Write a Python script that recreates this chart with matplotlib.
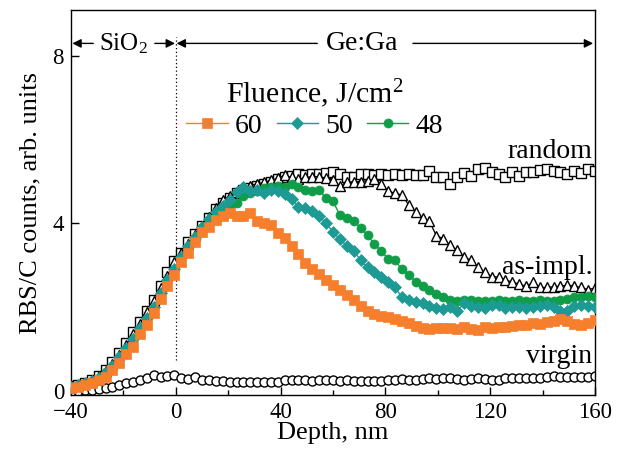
import matplotlib
matplotlib.use("Agg")
import matplotlib.pyplot as plt

plt.rcParams['font.family'] = ['Liberation Serif', 'DejaVu Serif']
plt.rcParams['mathtext.fontset'] = 'custom'
plt.rcParams['mathtext.rm'] = 'Liberation Serif'
plt.rcParams['mathtext.it'] = 'Liberation Serif:italic'

# Depth channels, nm
depth = [-40.0, -37.4, -34.7, -32.1, -29.5, -26.8, -24.2, -21.6, -18.9, -16.3,
         -13.7, -11.1, -8.4, -5.8, -3.2, -0.5, 2.1, 4.7, 7.4, 10.0,
         12.6, 15.3, 17.9, 20.5, 23.2, 25.8, 28.4, 31.1, 33.7, 36.3,
         38.9, 41.6, 44.2, 46.8, 49.5, 52.1, 54.7, 57.4, 60.0, 62.6,
         65.3, 67.9, 70.5, 73.2, 75.8, 78.4, 81.1, 83.7, 86.3, 88.9,
         91.6, 94.2, 96.8, 99.5, 102.1, 104.7, 107.4, 110.0, 112.6, 115.3,
         117.9, 120.5, 123.2, 125.8, 128.4, 131.1, 133.7, 136.3, 138.9, 141.6,
         144.2, 146.8, 149.5, 152.1, 154.7, 157.4, 160.0]

random_yield = [0.12, 0.15, 0.20, 0.27, 0.36, 0.50, 0.68, 0.90, 1.15, 1.40,
                1.65, 1.90, 2.18, 2.50, 2.83, 3.10, 3.30, 3.55, 3.75, 3.93,
                4.14, 4.35, 4.50, 4.60, 4.72, 4.80, 4.85, 4.90, 4.95, 5.00,
                5.05, 5.10, 5.13, 5.17, 5.15, 5.17, 5.18, 5.20, 5.22, 5.17,
                5.12, 5.10, 5.17, 5.17, 5.15, 5.17, 5.15, 5.17, 5.15, 5.17,
                5.16, 5.15, 5.25, 5.12, 5.10, 4.93, 5.10, 5.20, 5.13, 5.30,
                5.33, 5.22, 5.17, 5.10, 5.22, 5.13, 5.22, 5.22, 5.27, 5.29,
                5.25, 5.22, 5.17, 5.25, 5.20, 5.29, 5.25]

as_implanted = [0.10, 0.14, 0.20, 0.27, 0.36, 0.48, 0.65, 0.86, 1.10, 1.35,
                1.60, 1.88, 2.15, 2.45, 2.75, 3.08, 3.30, 3.50, 3.72, 3.95,
                4.15, 4.38, 4.55, 4.65, 4.75, 4.82, 4.90, 4.95, 4.98, 5.03,
                5.08, 5.15, 5.10, 5.05, 5.10, 5.12, 5.12, 5.08, 5.03, 4.90,
                4.98, 5.00, 5.00, 5.02, 5.05, 4.95, 4.77, 4.72, 4.68, 4.44,
                4.28, 4.13, 4.05, 3.70, 3.64, 3.48, 3.36, 3.20, 3.12, 2.96,
                2.84, 2.73, 2.72, 2.65, 2.60, 2.55, 2.50, 2.59, 2.47, 2.47,
                2.49, 2.50, 2.53, 2.50, 2.47, 2.42, 2.46]

virgin = [-0.03, 0.00, 0.02, 0.03, 0.05, 0.07, 0.10, 0.15, 0.19, 0.22,
          0.27, 0.31, 0.38, 0.34, 0.36, 0.38, 0.31, 0.29, 0.33, 0.26,
          0.25, 0.24, 0.23, 0.22, 0.22, 0.22, 0.21, 0.21, 0.22, 0.21,
          0.22, 0.26, 0.27, 0.25, 0.26, 0.24, 0.25, 0.26, 0.27, 0.24,
          0.25, 0.24, 0.23, 0.24, 0.23, 0.24, 0.25, 0.26, 0.28, 0.27,
          0.26, 0.28, 0.30, 0.29, 0.30, 0.30, 0.28, 0.27, 0.28, 0.30,
          0.28, 0.27, 0.25, 0.31, 0.31, 0.30, 0.31, 0.31, 0.32, 0.34,
          0.35, 0.34, 0.33, 0.34, 0.33, 0.34, 0.35]

fluence_60 = [0.07, 0.10, 0.15, 0.20, 0.26, 0.34, 0.50, 0.67, 0.88, 1.06,
              1.35, 1.58, 1.85, 2.20, 2.50, 2.78, 3.07, 3.30, 3.55, 3.80,
              3.92, 4.08, 4.18, 4.24, 4.18, 4.17, 4.25, 4.06, 4.02, 3.97,
              3.78, 3.66, 3.46, 3.28, 3.05, 2.92, 2.80, 2.65, 2.52, 2.42,
              2.30, 2.18, 2.02, 1.90, 1.83, 1.78, 1.77, 1.72, 1.68, 1.62,
              1.56, 1.50, 1.47, 1.50, 1.50, 1.50, 1.48, 1.52, 1.47, 1.46,
              1.52, 1.50, 1.53, 1.52, 1.55, 1.58, 1.58, 1.62, 1.60, 1.64,
              1.68, 1.72, 1.68, 1.60, 1.58, 1.63, 1.70]

fluence_50 = [0.10, 0.13, 0.18, 0.24, 0.32, 0.43, 0.60, 0.80, 1.02, 1.25,
              1.50, 1.75, 2.00, 2.35, 2.65, 2.92, 3.20, 3.45, 3.68, 3.92,
              4.10, 4.28, 4.42, 4.55, 4.74, 4.87, 4.78, 4.80, 4.72, 4.80,
              4.77, 4.70, 4.58, 4.40, 4.36, 4.30, 4.18, 4.00, 3.80, 3.62,
              3.47, 3.35, 3.12, 2.95, 2.85, 2.72, 2.60, 2.47, 2.24, 2.18,
              2.13, 2.10, 2.02, 1.99, 1.95, 2.01, 1.90, 2.10, 2.02, 2.00,
              1.99, 2.04, 2.05, 1.99, 2.00, 2.00, 1.99, 2.00, 2.02, 2.06,
              2.00, 1.92, 1.90, 2.02, 2.06, 2.03, 2.00]

fluence_48 = [0.10, 0.13, 0.18, 0.24, 0.32, 0.44, 0.60, 0.80, 1.00, 1.22,
              1.48, 1.72, 1.98, 2.30, 2.60, 2.88, 3.15, 3.40, 3.62, 3.85,
              4.02, 4.18, 4.30, 4.42, 4.50, 4.65, 4.72, 4.77, 4.84, 4.88,
              4.89, 4.88, 4.93, 4.86, 4.79, 4.78, 4.80, 4.60, 4.53, 4.20,
              4.14, 4.05, 3.90, 3.72, 3.50, 3.35, 3.14, 3.12, 2.90, 2.78,
              2.60, 2.50, 2.40, 2.32, 2.25, 2.18, 2.14, 2.16, 2.18, 2.15,
              2.15, 2.14, 2.16, 2.15, 2.14, 2.16, 2.15, 2.15, 2.16, 2.14,
              2.15, 2.17, 2.20, 2.24, 2.25, 2.26, 2.25]

fluence_labels = ['60', '50', '48']
fluence_colors = ['#f57f2c', '#1e9a94', '#0f9d47']
fluence_markers = ['s', 'D', 'o']
fluence_sizes = [6.5, 6.6, 6.5]

x_ticks = [-40, 0, 40, 80, 120, 160]
x_tick_labels = ['\u221240', '0', '40', '80', '120', '160']
x_minor_ticks = [-20, 20, 60, 100, 140]
y_ticks = [0, 4, 8]

fig = plt.figure(figsize=(6.25, 4.5), dpi=100)
ax = fig.add_axes([0.1136, 0.122, 0.8384, 0.856])

# reference spectra (open symbols)
ax.plot(depth, random_yield, color='black', lw=0.9, marker='s', ms=7,
        mfc='white', mec='black', mew=1.0, zorder=2)
ax.plot(depth, as_implanted, color='black', lw=0.9, marker='^', ms=7.5,
        mfc='white', mec='black', mew=1.0, zorder=2.5)
ax.plot(depth, virgin, color='black', lw=0.9, marker='o', ms=6.5,
        mfc='white', mec='black', mew=1.0, zorder=2)

# annealed spectra
handles = []
for vals, lab, col, mk, ms, z in zip([fluence_60, fluence_50, fluence_48],
                                     fluence_labels, fluence_colors,
                                     fluence_markers, fluence_sizes, [5, 4, 3]):
    h, = ax.plot(depth, vals, color=col, lw=1.0, marker=mk, ms=ms,
                 mfc=col, mec=col, mew=0.5, label=lab, zorder=z)
    handles.append(h)

leg = ax.legend(handles=handles, ncol=3, frameon=False, fontsize=20,
                title='Fluence, J/cm$^2$', title_fontsize=21.5,
                handlelength=1.5, handletextpad=0.25, columnspacing=0.5,
                loc='center', bbox_to_anchor=(0.465, 0.745), borderpad=0.1,
                labelspacing=0.1)
leg._legend_box.sep = 2

# interface marker
ax.plot([0, 0], [0.75, 8.45], color='black', lw=0.9, ls=(0, (1, 2)), zorder=1)

arrow = dict(arrowstyle='-|>', color='black', lw=1.0, mutation_scale=13,
             shrinkA=0, shrinkB=0)
y_arr = 8.3
ax.annotate('', xy=(-39.5, y_arr), xytext=(-31.5, y_arr), arrowprops=arrow)
ax.annotate('', xy=(-0.3, y_arr), xytext=(-8.0, y_arr), arrowprops=arrow)
ax.annotate('', xy=(0.3, y_arr), xytext=(54, y_arr), arrowprops=arrow)
ax.annotate('', xy=(159.3, y_arr), xytext=(90.5, y_arr), arrowprops=arrow)
ax.text(-19.8, y_arr, 'SiO$_2$', fontsize=18, ha='center', va='center')
ax.text(71, y_arr, 'Ge:Ga', fontsize=20, ha='center', va='center')

ax.text(159, 5.72, 'random', fontsize=20, ha='right', va='center')
ax.text(159, 2.95, 'as-impl.', fontsize=20, ha='right', va='center')
ax.text(159, 0.82, 'virgin', fontsize=20, ha='right', va='center')

ax.set_xlim(-40, 160)
ax.set_ylim(-0.1, 9.1)
ax.set_xticks(x_ticks)
ax.set_xticklabels(x_tick_labels)
ax.set_xticks(x_minor_ticks, minor=True)
ax.set_yticks(y_ticks)
ax.tick_params(axis='both', which='major', direction='in', length=6,
               width=1.0, labelsize=16.5, pad=5)
ax.tick_params(axis='x', which='minor', direction='in', length=3.5, width=1.0)
for s in ax.spines.values():
    s.set_linewidth(1.0)

ax.set_xlabel('Depth, nm', fontsize=19, labelpad=-1)
ax.set_ylabel('RBS/C counts, arb. units', fontsize=19, labelpad=8)

fig.savefig('out.png', dpi=100)
